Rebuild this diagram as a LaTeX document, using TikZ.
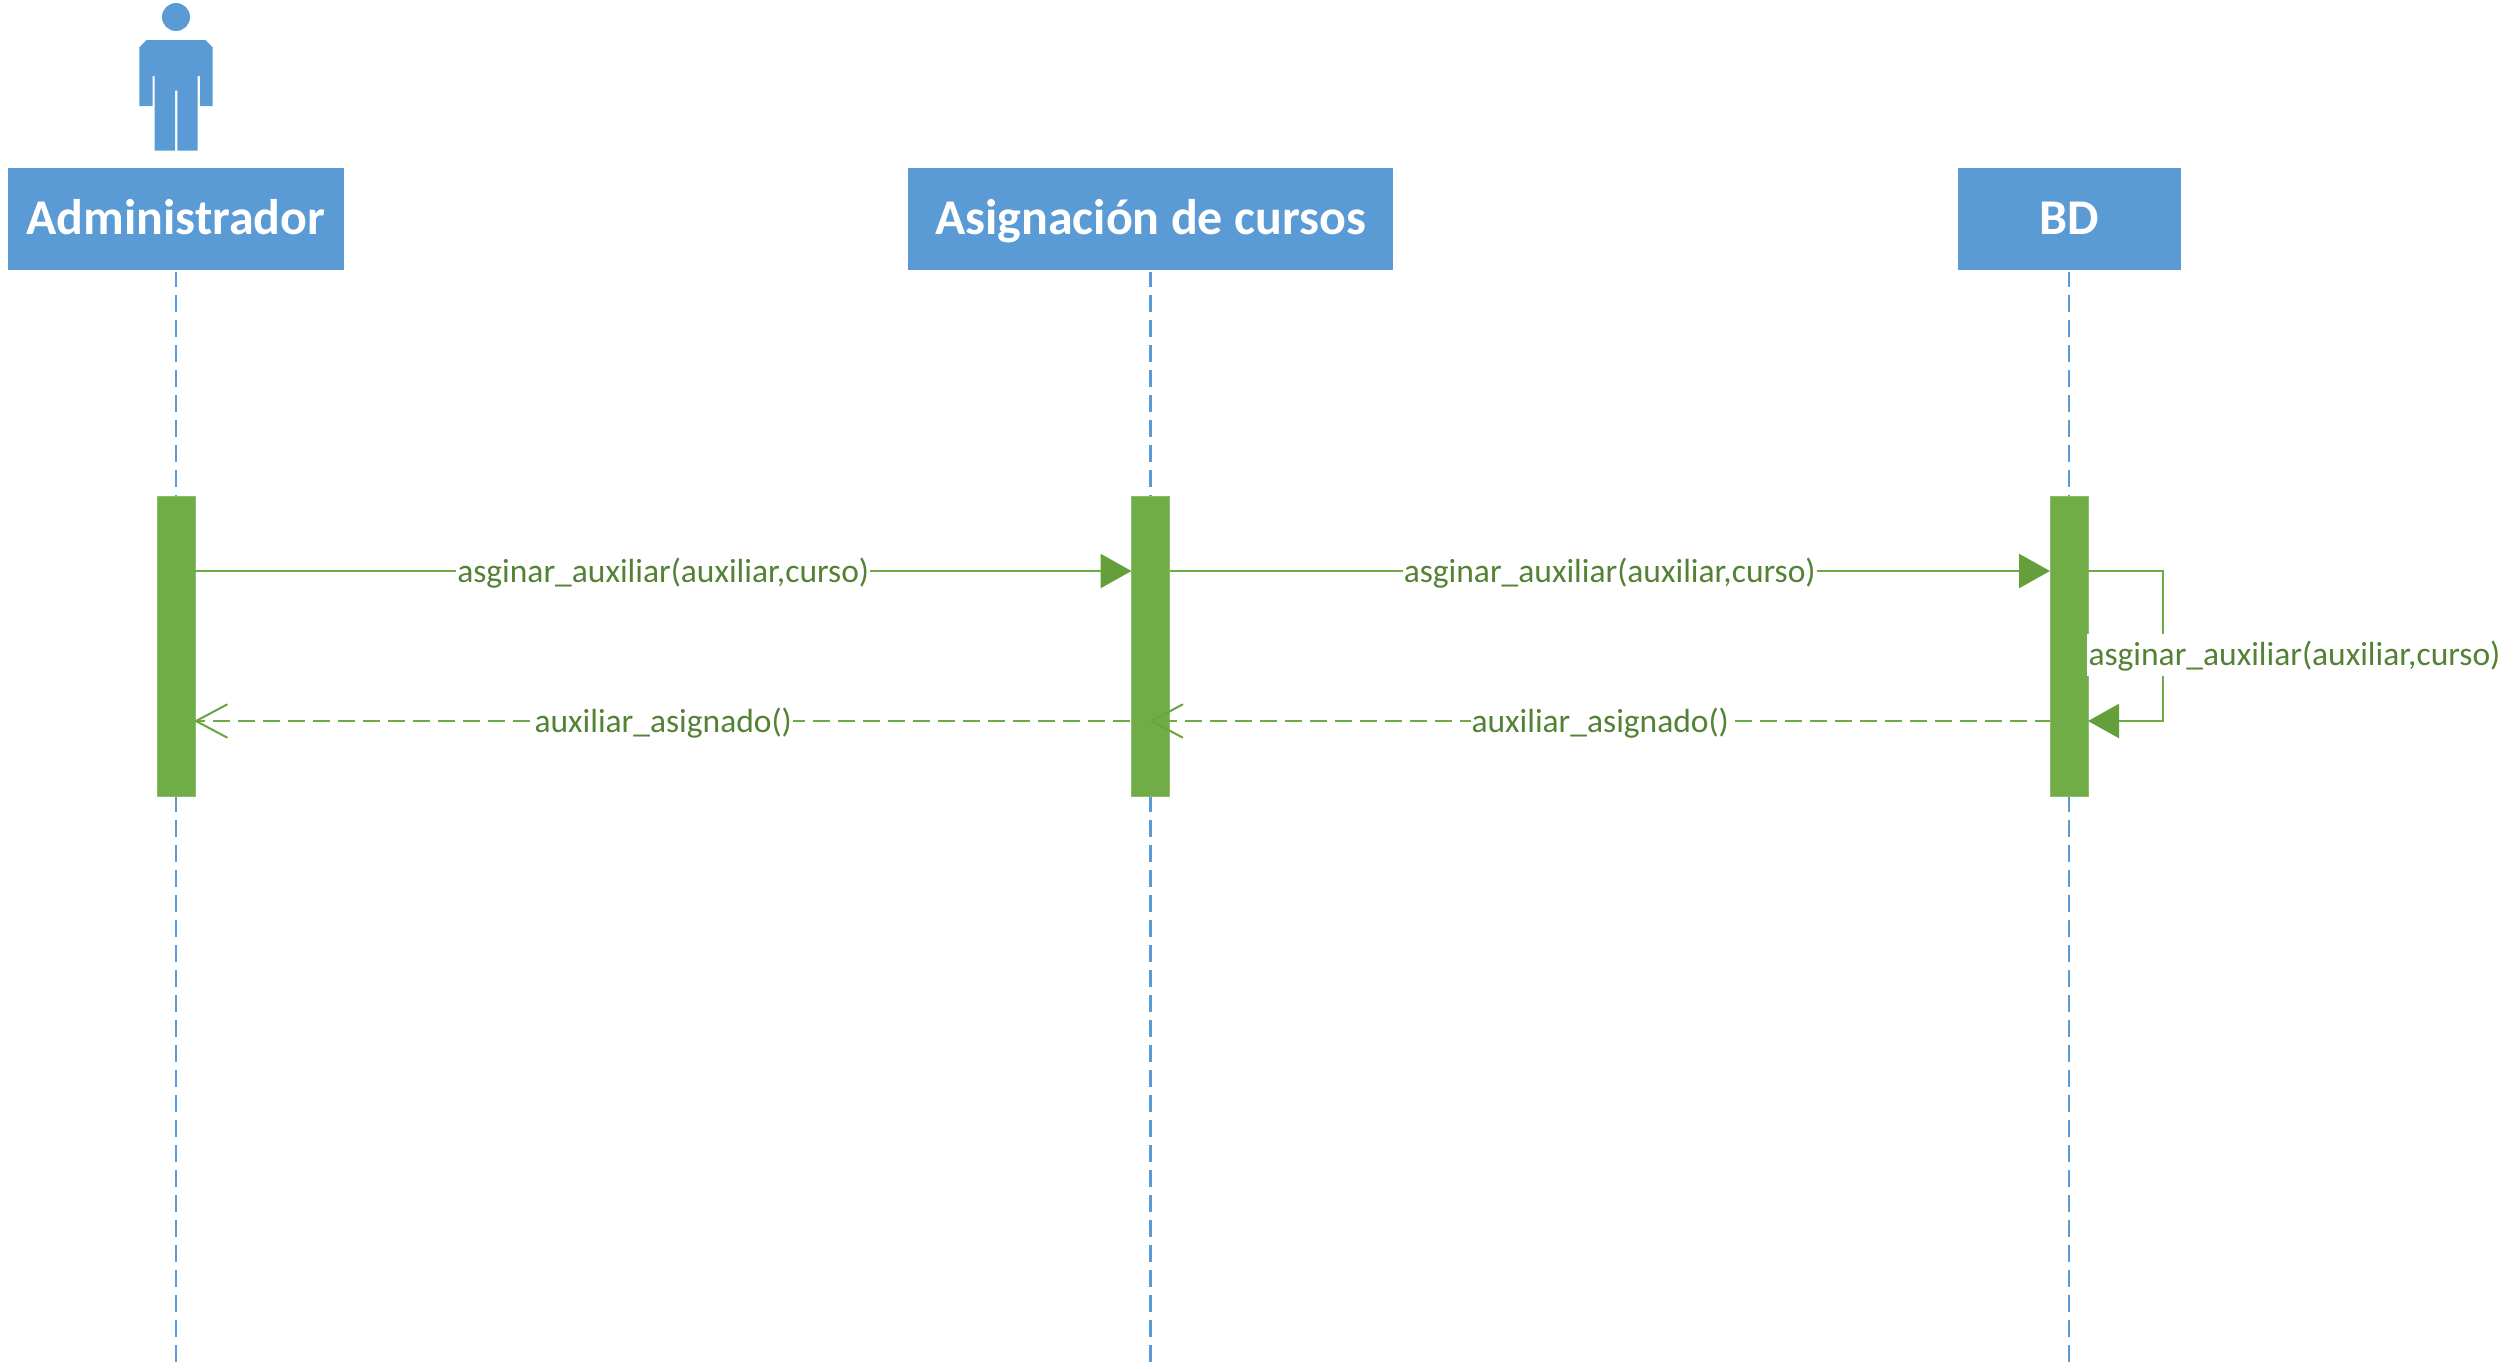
\documentclass[tikz,border=0pt]{standalone}
\usepackage{fontspec}
\setmainfont{Carlito}
\usetikzlibrary{arrows.meta}
\definecolor{bluefill}{HTML}{5B9BD5}
\definecolor{barfill}{HTML}{70AD47}
\definecolor{baredge}{HTML}{8CBD6E}
\definecolor{msgline}{HTML}{6EAB45}
\definecolor{headfill}{HTML}{659F3B}
\definecolor{barbline}{HTML}{68A540}
\definecolor{msgtext}{HTML}{548235}
\tikzset{
  x=1pt,y=-1pt,
  headbox/.style={rectangle,fill=bluefill,text=white,outer sep=0pt,inner sep=0pt,minimum height=102pt,
    text height=40pt,text depth=10pt,font=\fontsize{50}{60}\selectfont\bfseries},
  lifeline/.style={bluefill,line width=2.2pt,dash pattern=on 16.5pt off 8.5pt,dash phase=2pt},
  actbar/.style={rectangle,fill=barfill,draw=baredge,line width=1pt,outer sep=0pt,inner sep=0pt,minimum width=38pt,minimum height=300pt},
  msgsolid/.style={msgline,line width=2.4pt,-{Triangle[length=31pt,width=34pt,fill=headfill,color=headfill]}},
  msgdash/.style={msgline,line width=2.4pt,dash pattern=on 16.5pt off 8.5pt,-{Straight Barb[length=31pt,width=33pt,line width=2pt,round,sep=0pt,color=barbline]}},
  msglabel/.style={fill=white,text=msgtext,inner sep=1pt,outer sep=0pt,minimum height=42pt,text height=27pt,text depth=5pt,font=\fontsize{33.5}{40}\selectfont},
}
\begin{document}
\begin{tikzpicture}
\useasboundingbox (0,0) rectangle (2518,1368);
% actor
\fill[bluefill] (176,17) circle[radius=14];
\fill[bluefill] (146.7,40) -- (205.3,40) -- (212.7,47.3) -- (212.7,106) -- (200,106) -- (200,76) -- (197.7,76) -- (197.7,150.7) -- (177.3,150.7) -- (177.3,90.7) -- (175,90.7) -- (175,150.7) -- (154.7,150.7) -- (154.7,76) -- (152.7,76) -- (152.7,106) -- (139.3,106) -- (139.3,47.3) -- cycle;
% header boxes
\node[headbox,minimum width=336pt] (admin) at (176,219) {Administrador};
\node[headbox,minimum width=485pt] (asig) at (1150.5,219) {Asignación de cursos};
\node[headbox,minimum width=223pt] (bd) at (2069,219) {BD};
% lifeline ends and message levels
\coordinate (endA) at (176,1362);
\coordinate (endB) at (1150.5,1362);
\coordinate (endC) at (2069,1362);
\coordinate (m1) at (0,571);
\coordinate (m2) at (0,721);
\coordinate (loopx) at (2163,571);
% lifelines
\draw[lifeline] ([yshift=-2pt]admin.south) -- (endA);
\draw[lifeline] ([yshift=-2pt]asig.south) -- (endB);
\draw[lifeline] ([yshift=-2pt]bd.south) -- (endC);
% activation bars
\node[actbar] (bar1) at (176,646.5) {};
\node[actbar] (bar2) at (1150.5,646.5) {};
\node[actbar] (bar3) at (2069,646.5) {};
% messages
\draw[msgsolid] (bar1.east |- m1) -- node[msglabel]{asginar\_auxiliar(auxiliar,curso)} (bar2.west |- m1);
\draw[msgsolid] (bar2.east |- m1) -- node[msglabel]{asginar\_auxiliar(auxiliar,curso)} (bar3.west |- m1);
\draw[msgdash,dash phase=23pt] (bar2.west |- m2) -- node[msglabel]{auxiliar\_asignado()} (bar1.east |- m2);
\draw[msgdash,dash phase=1.7pt] (bar3.west |- m2) -- node[msglabel]{auxiliar\_asignado()} (bar2.center |- m2);
\draw[msgsolid] (bar3.east |- m1) -- (loopx) -- (loopx |- m2) -- (bar3.east |- m2);
\node[msglabel,inner sep=2pt,anchor=west] (looplab) at (2086.5,654.5) {asginar\_auxiliar(auxiliar,curso)};
\end{tikzpicture}
\end{document}
